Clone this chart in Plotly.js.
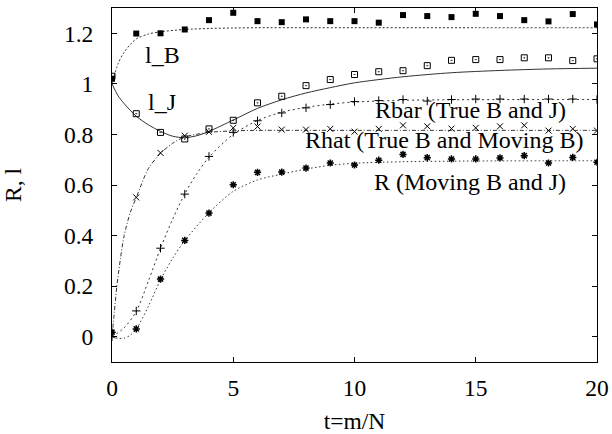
<!DOCTYPE html>
<html>
<head>
<meta charset="utf-8">
<script src="https://cdn.plot.ly/plotly-3.0.1.min.js"></script>
<style>html,body{margin:0;padding:0;background:#fff;}#chart{width:612px;height:434px;}</style>
</head>
<body>
<div id="chart"></div>
<script>
// ---- data ----
const t = [0,1,2,3,4,5,6,7,8,9,10,11,12,13,14,15,16,17,18,19,20];

const lB_data  = [1.020,1.199,1.200,1.215,1.252,1.281,1.248,1.244,1.255,1.248,1.248,1.242,1.272,1.268,1.264,1.277,1.268,1.252,1.247,1.276,1.235];
const lJ_data  = [1.030,0.882,0.808,0.782,0.822,0.856,0.925,0.951,0.993,1.017,1.037,1.048,1.052,1.072,1.093,1.096,1.096,1.103,1.103,1.092,1.099];
const Rbar_data = [0.000,0.102,0.350,0.564,0.713,0.808,0.854,0.885,0.905,0.918,0.930,0.934,0.938,0.932,0.938,0.940,0.940,0.940,0.940,0.940,0.938];
const Rhat_data = [0.005,0.551,0.727,0.795,0.810,0.826,0.831,0.819,0.819,0.822,0.811,0.822,0.836,0.832,0.823,0.826,0.832,0.836,0.815,0.822,0.815];
const R_data    = [0.018,0.031,0.228,0.381,0.489,0.601,0.650,0.651,0.667,0.687,0.679,0.698,0.721,0.708,0.703,0.703,0.707,0.716,0.687,0.709,0.690];

const lB_fit_t = [0,0.25,0.5,0.75,1,1.5,2,3,4,5,6,8,10,15,20];
const lB_fit   = [1.0,1.08,1.125,1.155,1.178,1.197,1.206,1.215,1.219,1.221,1.222,1.222,1.222,1.222,1.222];

const lJ_fit_t = [0,0.25,0.5,1,1.5,2,2.5,3,3.5,4,5,6,7,8,9,10,12,14,16,18,20];
const lJ_fit   = [1.0,0.953,0.922,0.872,0.838,0.812,0.793,0.787,0.795,0.812,0.857,0.903,0.937,0.964,0.985,1.004,1.028,1.044,1.053,1.059,1.062];

const Rbar_fit_t = [0,0.5,1,1.5,2,2.5,3,3.5,4,5,6,7,8,9,10,12,14,17,20];
const Rbar_fit   = [0,0.035,0.10,0.22,0.35,0.465,0.565,0.645,0.71,0.80,0.855,0.888,0.907,0.92,0.928,0.935,0.937,0.938,0.938];

const Rhat_fit_t = [0,0.1,0.2,0.35,0.5,0.75,1,1.5,2,2.5,3,4,5,6,10,20];
const Rhat_fit   = [0,0.1,0.2,0.31,0.4,0.49,0.55,0.665,0.725,0.765,0.79,0.808,0.814,0.816,0.816,0.816];

const R_fit_t = [0,0.25,0.5,0.75,1,1.5,2,2.5,3,4,5,6,7,8,9,10,12,15,20];
const R_fit   = [0,-0.006,-0.006,0.006,0.03,0.12,0.225,0.31,0.38,0.49,0.575,0.62,0.643,0.663,0.678,0.686,0.692,0.695,0.696];

const labels = {
  lB: "l_B", lJ: "l_J",
  Rbar: "Rbar (True B and J)",
  Rhat: "Rhat (True B and Moving B)",
  R: "R (Moving B and J)"
};
const xTitle = "t=m/N";
const yTitle = "R, l";

// ---- styling ----
const ink = "#000";
const FONT = "Liberation Serif, Times New Roman, serif";
const FS = 23.5;

function curve(x, y, dash, w) {
  return {x: x, y: y, mode: "lines", type: "scatter",
          line: {color: "#333", width: w || 1, dash: dash, shape: "spline", smoothing: 0.8},
          hoverinfo: "skip"};
}
function pts(y, symbol, size, lw) {
  return {x: t, y: y, mode: "markers", type: "scatter",
          marker: {symbol: symbol, size: size, color: ink, line: {color: ink, width: lw}},
          hoverinfo: "skip"};
}

const traces = [
  curve(lB_fit_t, lB_fit, "2px,2px", 1),
  curve(lJ_fit_t, lJ_fit, "solid", 1),
  curve(Rbar_fit_t, Rbar_fit, "2px,3px", 1),
  curve(Rhat_fit_t, Rhat_fit, "4px,2px,1px,2px", 1),
  curve(R_fit_t, R_fit, "1.5px,2.5px", 1),
  pts(lB_data, "square", 6, 0),
  pts(lJ_data, "square-open-dot", 6, 1),
  pts(Rbar_data, "cross-thin-open", 6, 1),
  pts(Rhat_data, "x-thin-open", 6, 1),
  pts(R_data, "asterisk-open", 6, 1.5)
];

function lab(text, x, y, anchor) {
  return {text: text, x: x, y: y, xref: "x", yref: "y", xanchor: anchor, yanchor: "middle",
          showarrow: false, font: {family: FONT, size: 24, color: ink}};
}

const layout = {
  width: 612, height: 434,
  margin: {l: 112, r: 15, t: 8, b: 72},
  paper_bgcolor: "#fff", plot_bgcolor: "#fff",
  showlegend: false,
  font: {family: FONT, size: FS, color: ink},
  xaxis: {
    range: [0, 20], dtick: 5, tick0: 0,
    showgrid: false, zeroline: false,
    showline: true, linecolor: ink, linewidth: 1, mirror: "ticks",
    ticks: "inside", ticklen: 5, tickwidth: 1, tickcolor: ink,
    ticklabelstandoff: 5,
    tickfont: {family: FONT, size: FS, color: ink},
    title: {text: xTitle, font: {family: FONT, size: FS, color: ink}, standoff: 26}
  },
  yaxis: {
    range: [-0.1, 1.3], dtick: 0.2, tick0: 0,
    showgrid: false, zeroline: false,
    showline: true, linecolor: ink, linewidth: 1, mirror: "ticks",
    ticks: "inside", ticklen: 5, tickwidth: 1, tickcolor: ink,
    ticklabelstandoff: 13,
    tickfont: {family: FONT, size: FS, color: ink},
    title: {text: yTitle, font: {family: FONT, size: FS, color: ink}, standoff: 42}
  },
  annotations: [
    lab(labels.lB, 1.28, 1.113, "left"),
    lab(labels.lJ, 1.40, 0.929, "left"),
    lab(labels.Rbar, 18.8, 0.895, "right"),
    lab(labels.Rhat, 19.5, 0.777, "right"),
    lab(labels.R, 18.8, 0.613, "right")
  ]
};

Plotly.newPlot("chart", traces, layout, {displayModeBar: false, staticPlot: true});
</script>
</body>
</html>
